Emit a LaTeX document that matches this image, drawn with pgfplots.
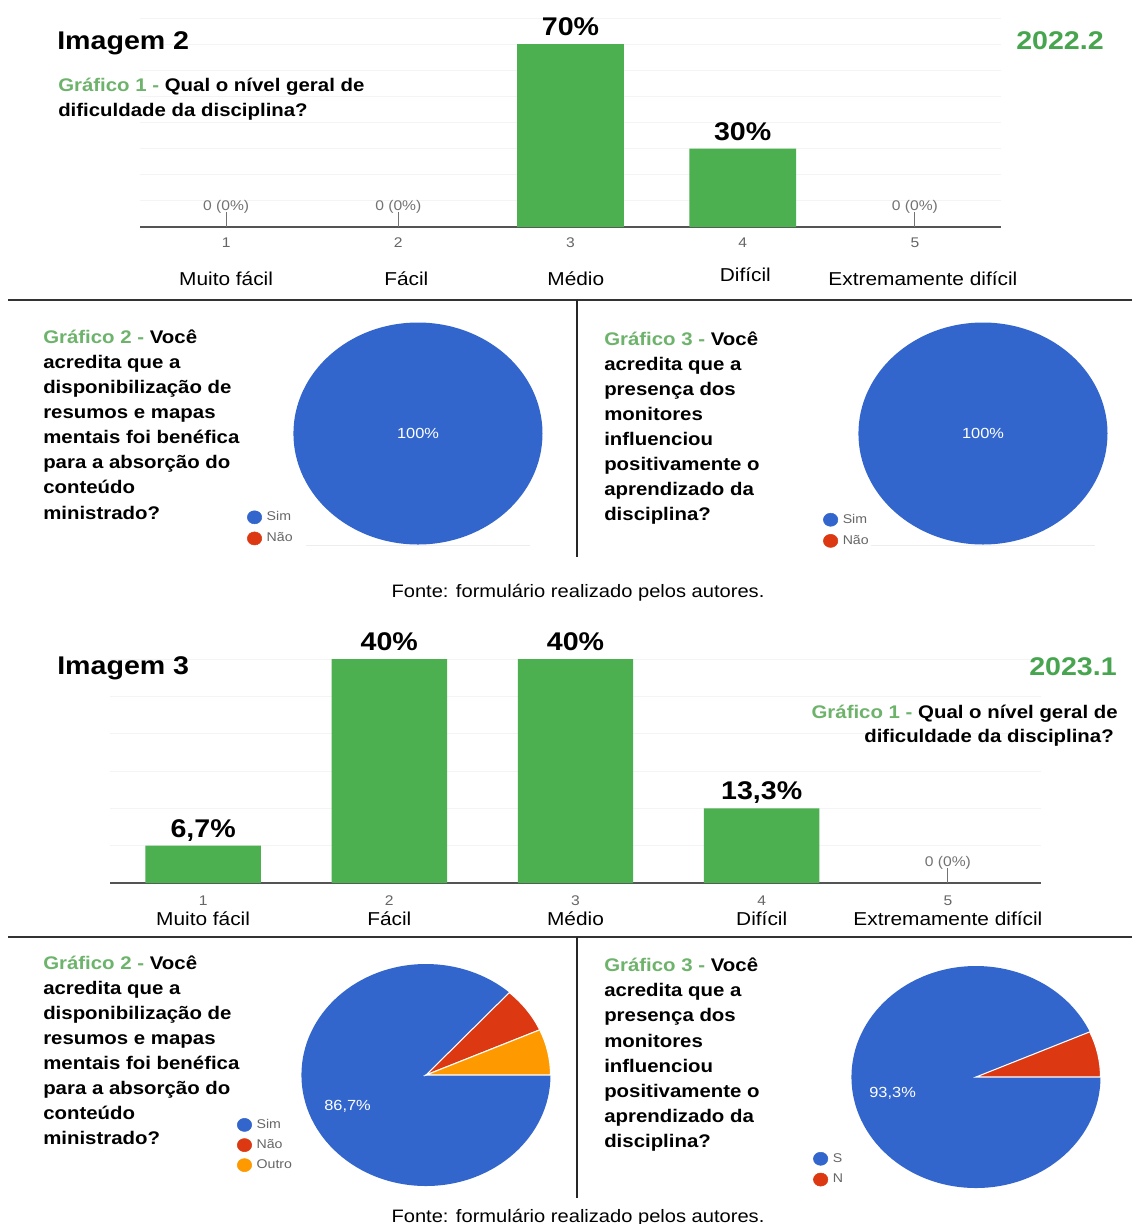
\documentclass[border=0pt]{standalone}
\usepackage{fontspec}
\setmainfont{Liberation Sans}[FakeStretch=1.117]
\usepackage{pgfplots}
\pgfplotsset{compat=1.18}

\definecolor{bargreen}{HTML}{4CAF50}
\definecolor{labgreen}{HTML}{6DB36B}
\definecolor{yeargreen}{HTML}{47A54F}
\definecolor{pieblue}{HTML}{3366CC}
\definecolor{piered}{HTML}{DC3912}
\definecolor{pieorange}{HTML}{FF9900}

\newcommand\ftitle{\fontsize{19.2}{23}\selectfont\bfseries}
\newcommand\fq{\fontsize{13.7}{18.75}\selectfont\bfseries}
\newcommand\fsmall{\fontsize{10.5}{12.6}\selectfont}
\newcommand\fleg{\fontsize{9.5}{11}\selectfont}
\newcommand\fpie{\fontsize{11}{13}\selectfont}
\newcommand\ffonte{\fontsize{13.5}{16}\selectfont}
\newcommand\cn[1]{{\color{black}\fontsize{14}{16}\selectfont #1}}

% pie radii (124.5 px x 111 px)
\def\pierx{93.4pt}
\def\piery{83.25pt}
% slice from cumulative % #2 to #3, clockwise from 3 o'clock
\newcommand\slice[4][]{\fill[#4,#1] (axis cs:0,0) -- (axis cs:{cos(360-3.6*#2)},{sin(360-3.6*#2)})
  arc[start angle={360-3.6*#2}, end angle={360-3.6*#3}, x radius=\pierx, y radius=\piery] -- cycle;}

\pgfplotsset{
  baraxis/.style={anchor=south west, scale only axis,
    xmin=0.5, xmax=5.5, ymin=0,
    axis lines*=left, y axis line style={draw=none},
    x axis line style={-, draw=black!67, line width=1.5pt},
    yticklabels={}, ymajorgrids, grid style={draw=black!4.5, line width=0.75pt},
    xtick={1,...,5}, major tick length=0pt, clip=false},
  valbars/.style={ybar, bar shift=0pt, bar width=0.62, fill=bargreen, draw=none,
    point meta=explicit symbolic, nodes near coords,
    every node near coord/.append style={font=\ftitle, text=black, anchor=base, inner sep=0pt, yshift=6.4pt}},
  zerobars/.style={ybar, bar shift=0pt, bar width=0.62, draw=none, fill=none,
    nodes near coords={0 (0\%)\\[-2pt]\rule{0.75pt}{11pt}},
    every node near coord/.append style={font=\fsmall, text=black!55, align=center, anchor=south, inner sep=0pt}},
  pieaxis/.style={anchor=south west, hide axis, scale only axis, width=186.75pt, height=166.5pt,
    xmin=-1, xmax=1, ymin=-1, ymax=1, clip=false,
    legend image code/.code={\fill[##1] (0pt,0pt) ellipse[x radius=5.4pt, y radius=4.9pt];},
    legend cell align=left,
    legend style={draw=none, fill=none, inner sep=0pt, font=\fleg, anchor=west,
      nodes={text=black!60, inner sep=1.5pt}, row sep=4.5pt, column sep=2pt}},
}

\begin{document}
\begin{tikzpicture}[x=0.75pt, y=-0.75pt,
  q/.style={anchor=base west, inner sep=0pt, font=\fq}]
\path[use as bounding box] (0,0) rectangle (1132,1224);
\fill[white] (0,0) rectangle (1132,1224);

% ---------- Imagem 2: bar chart ----------
\begin{axis}[baraxis, at={(105pt,-170.25pt)}, width=645.75pt, height=156.75pt,
  ymax=8, ytick={1,...,8},
  xticklabels={{1\\\cn{Muito fácil}},{2\\\cn{\hspace*{12pt}Fácil}},{3\\\cn{\hspace*{8pt}Médio}},{4\\[-3pt]\cn{\hspace*{4pt}Difícil}},{5\\\cn{\hspace*{12pt}Extremamente difícil}}},
  xticklabel style={align=center, font=\fontsize{10.5}{28.3}\selectfont, text=black!60, inner sep=3.5pt, yshift=-4.7pt}]
\addplot[valbars] coordinates {(3,7) [70\%] (4,3) [30\%]};
\addplot[zerobars] coordinates {(1,0) (2,0) (5,0)};
\end{axis}

\node[anchor=base west, inner sep=0pt, font=\ftitle] at (57,49.3) {Imagem 2};
\node[anchor=base west, inner sep=0pt, font=\ftitle, text=yeargreen] at (1016,49.3) {2022.2};
\node[q] at (58,91.7) {\textcolor{labgreen}{Gráfico 1 -} Qual o nível geral de};
\node[q] at (58,116.7) {dificuldade da disciplina?};

\draw[black!80, line width=1.5pt] (8,300) -- (1132,300);
\draw[black!85, line width=1.5pt] (577,300) -- (577,557);

% ---------- Imagem 2: pies ----------
\foreach \t [count=\i from 0] in {{\textcolor{labgreen}{Gráfico 2 -} Você}, acredita que a,
  disponibilização de, resumos e mapas, mentais foi benéfica, para a absorção do, conteúdo, ministrado?}
  \node[q] at (43,{343.3+25.1*\i}) {\t};
\foreach \t [count=\i from 0] in {{\textcolor{labgreen}{Gráfico 3 -} Você}, acredita que a,
  presença dos, monitores, influenciou, positivamente o, aprendizado da, disciplina?}
  \node[q] at (604,{345.7+25*\i}) {\t};

\begin{axis}[pieaxis, at={(220.125pt,-408.375pt)}, legend style={at={(-0.1875,0.075)}}]
\draw[black!7, line width=0.75pt] (axis cs:-0.9,-1.01) -- (axis cs:0.9,-1.01);
\slice{0}{100}{pieblue}
\node[font=\fpie, text=white] at (axis cs:0,0) {100\%};
\addlegendimage{pieblue}\addlegendentry{Sim}
\addlegendimage{piered}\addlegendentry{Não}
\end{axis}

\begin{axis}[pieaxis, at={(643.875pt,-408.375pt)}, legend style={at={(-0.143,0.064)}}]
\draw[black!7, line width=0.75pt] (axis cs:-0.9,-1.01) -- (axis cs:0.9,-1.01);
\slice{0}{100}{pieblue}
\node[font=\fpie, text=white] at (axis cs:0,0) {100\%};
\addlegendimage{pieblue}\addlegendentry{Sim}
\addlegendimage{piered}\addlegendentry{Não}
\end{axis}

\node[anchor=base, inner sep=0pt, font=\ffonte] at (578,597) {Fonte: formulário realizado pelos autores.};

% ---------- Imagem 3: bar chart ----------
\begin{axis}[baraxis, at={(82.5pt,-662.25pt)}, width=698.25pt, height=168pt,
  ymax=6, ytick={1,...,6},
  xticklabels={{1\\\cn{Muito fácil}},{2\\\cn{Fácil}},{3\\\cn{Médio}},{4\\\cn{Difícil}},{5\\\cn{Extremamente difícil}}},
  xticklabel style={align=center, font=\fontsize{10.5}{15}\selectfont, text=black!60, inner sep=3.5pt, yshift=-6.2pt}]
\addplot[valbars] coordinates {(1,1) [6{,}7\%] (2,6) [40\%] (3,6) [40\%] (4,2) [13{,}3\%]};
\addplot[zerobars] coordinates {(5,0)};
\end{axis}

\node[anchor=base west, inner sep=0pt, font=\ftitle] at (57,674) {Imagem 3};
\node[anchor=base east, inner sep=0pt, font=\ftitle, text=yeargreen] at (1117,675) {2023.1};
\node[q, anchor=base east] at (1118,718.3) {\textcolor{labgreen}{Gráfico 1 -} Qual o nível geral de};
\node[q, anchor=base east] at (1114,742) {dificuldade da disciplina?};

\draw[black!80, line width=1.5pt] (8,937) -- (1132,937);
\draw[black!85, line width=1.5pt] (577,937) -- (577,1198);

% ---------- Imagem 3: pies ----------
\foreach \t [count=\i from 0] in {{\textcolor{labgreen}{Gráfico 2 -} Você}, acredita que a,
  disponibilização de, resumos e mapas, mentais foi benéfica, para a absorção do, conteúdo, ministrado?}
  \node[q] at (43,{969+25.1*\i}) {\t};
\foreach \t [count=\i from 0] in {{\textcolor{labgreen}{Gráfico 3 -} Você}, acredita que a,
  presença dos, monitores, influenciou, positivamente o, aprendizado da, disciplina?}
  \node[q] at (604,{971.7+25.1*\i}) {\t};

\begin{axis}[pieaxis, at={(226.125pt,-889.5pt)}, legend style={at={(-0.26,0.185)}, row sep=3.8pt}]
\slice{0}{86.67}{pieblue}
\slice[draw=white, line width=0.8pt]{86.67}{93.33}{piered}
\slice[draw=white, line width=0.8pt]{93.33}{100}{pieorange}
\node[font=\fpie, text=white] at (axis cs:-0.63,-0.28) {86,7\%};
\addlegendimage{pieblue}\addlegendentry{Sim}
\addlegendimage{piered}\addlegendentry{Não}
\addlegendimage{pieorange}\addlegendentry{Outro}
\end{axis}

\begin{axis}[pieaxis, at={(638.625pt,-891pt)}, legend style={at={(-0.155,0.085)}}]
\slice{0}{93.33}{pieblue}
\slice[draw=white, line width=0.8pt]{93.33}{100}{piered}
\node[font=\fpie, text=white] at (axis cs:-0.67,-0.15) {93,3\%};
\addlegendimage{pieblue}\addlegendentry{S}
\addlegendimage{piered}\addlegendentry{N}
\end{axis}

\node[anchor=base, inner sep=0pt, font=\ffonte] at (578,1222) {Fonte: formulário realizado pelos autores.};
\end{tikzpicture}
\end{document}
